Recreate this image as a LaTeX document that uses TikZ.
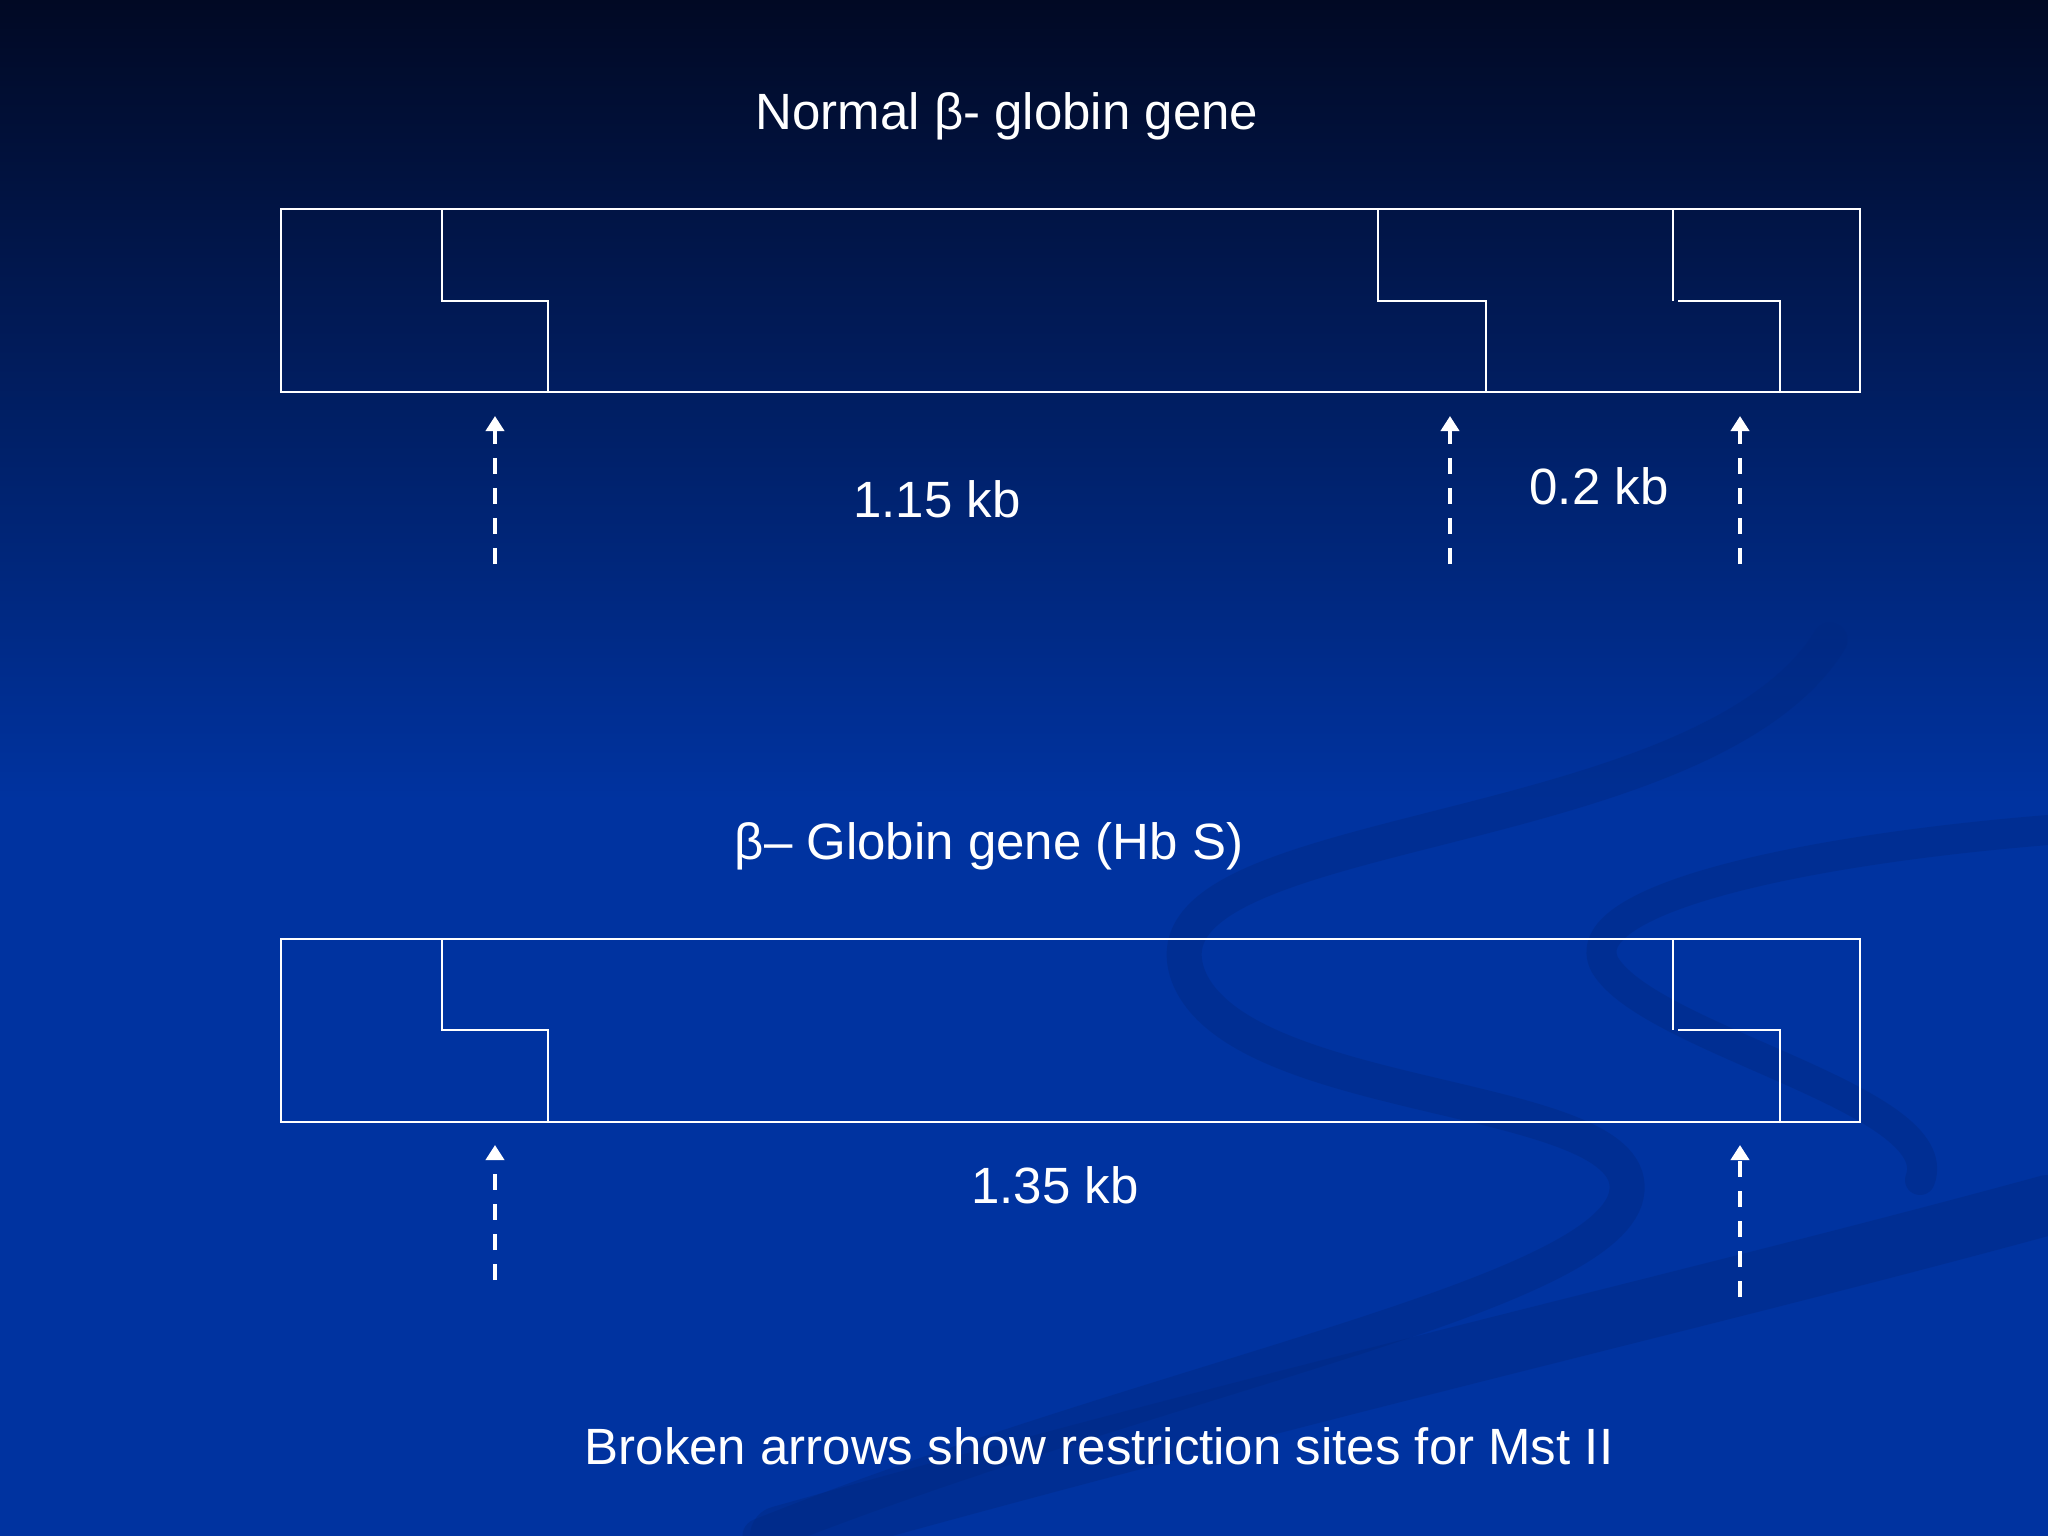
\documentclass[tikz,border=0pt]{standalone}
\usepackage{fontspec}
\setmainfont{Liberation Sans}
\usetikzlibrary{positioning,arrows.meta}
\definecolor{slidetop}{RGB}{1,9,36}
\definecolor{slideblue}{RGB}{0,51,160}
\definecolor{swoosh}{RGB}{0,40,128}

\begin{document}
\begin{tikzpicture}[x=0.01cm,y=-0.01cm,
  gene/.style={draw=white, line width=0.6pt},
  site/.style={draw=white, line width=1.2pt, dash pattern=on 0.16cm off 0.14cm,
    -{Triangle[width=0.18cm,length=0.15cm]}},
  slidetext/.style={text=white, font=\fontsize{14.5}{17}\selectfont, inner sep=0pt, anchor=base}]
% Background
\useasboundingbox (0,0) rectangle (2048,1536);
\shade[top color=slidetop, bottom color=slideblue] (0,0) rectangle (2048,800);
\fill[slideblue] (0,799) rectangle (2048,1536);
\begin{scope}[swoosh, opacity=0.4, line cap=round]
\draw[line width=0.35cm] (1830,640) .. controls (1700,850) and (1120,820) .. (1190,980)
  .. controls (1250,1110) and (1660,1090) .. (1625,1200)
  .. controls (1590,1300) and (1150,1380) .. (760,1536);
\draw[line width=0.3cm] (2048,830) .. controls (1800,850) and (1570,900) .. (1605,965)
  .. controls (1650,1040) and (1950,1100) .. (1920,1180);
\draw[line width=0.6cm] (780,1536) .. controls (1300,1390) and (1700,1300) .. (2048,1205);
\end{scope}

% Normal gene
\node[slidetext] (normal) at (1007,129) {Normal β- globin gene};
\draw[gene] (281,209) rectangle (1860,392);
\draw[gene] (442,209) |- (548,301) -- (548,392);
\draw[gene] (1378,209) |- (1486,301) -- (1486,392);
\draw[gene] (1673,209) -- (1673,301);
\draw[gene] (1678,301) -| (1780,392);

\coordinate (n1t) at (495,416);
\coordinate (n1b) at (495,564);
\coordinate (n2t) at (1450,416);
\coordinate (n2b) at (1450,564);
\coordinate (n3t) at (1740,416);
\coordinate (n3b) at (1740,564);
\draw[site] (n1b) -- (n1t);
\draw[site] (n2b) -- (n2t);
\draw[site] (n3b) -- (n3t);
\node[slidetext] (long) at (937,517) {1.15 kb};
\node[slidetext] (short) at (1599,504) {0.2 kb};

% Sickle gene
\node[slidetext] (sickle) at (989,859) {β– Globin gene (Hb S)};
\draw[gene] (281,939) rectangle (1860,1122);
\draw[gene] (442,939) |- (548,1030) -- (548,1122);
\draw[gene] (1673,939) -- (1673,1030);
\draw[gene] (1678,1030) -| (1780,1122);

\coordinate (s1t) at (495,1145);
\coordinate (s1b) at (495,1280);
\coordinate (s2t) at (1740,1145);
\coordinate (s2b) at (1740,1297);
\draw[site] (s1b) -- (s1t);
\draw[site] (s2b) -- (s2t);
\node[slidetext] (whole) at (1055,1203) {1.35 kb};

\node[slidetext] (note) at (1099,1464) {Broken arrows show restriction sites for Mst II};
\end{tikzpicture}
\end{document}
